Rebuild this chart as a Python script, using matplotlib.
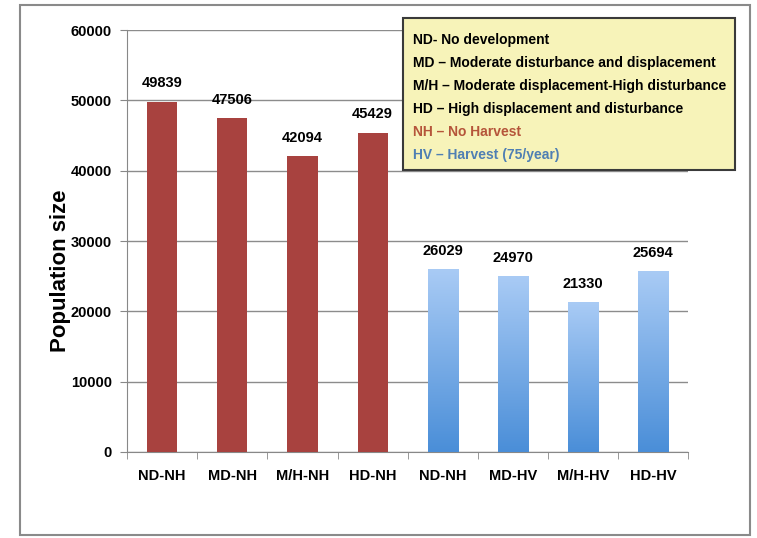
import numpy as np
import matplotlib.pyplot as plt
from matplotlib.patches import Rectangle
from matplotlib.colors import LinearSegmentedColormap

# Data
categories = ['ND-NH', 'MD-NH', 'M/H-NH', 'HD-NH', 'ND-NH', 'MD-HV', 'M/H-HV', 'HD-HV']
values = [49839, 47506, 42094, 45429, 26029, 24970, 21330, 25694]
harvest = [False, False, False, False, True, True, True, True]
legend_lines = ['ND- No development',
                'MD \u2013 Moderate disturbance and displacement',
                'M/H \u2013 Moderate displacement-High disturbance',
                'HD \u2013 High displacement and disturbance',
                'NH \u2013 No Harvest',
                'HV \u2013 Harvest (75/year)']
legend_colors = ['black', 'black', 'black', 'black', '#b5553a', '#4f7fb3']

plt.rcParams['font.family'] = ['Liberation Sans', 'DejaVu Sans']

fig = plt.figure(figsize=(7.57, 5.38), dpi=100)
ax = fig.add_axes([0.168, 0.160, 0.741, 0.784])

# outer frame
fig.patches.append(Rectangle((0.026, 0.006), 0.965, 0.985, transform=fig.transFigure,
                             fill=False, edgecolor='#8a8a8a', linewidth=1.5))

x = np.arange(len(categories))
width = 0.43
blue_cmap = LinearSegmentedColormap.from_list('blu', ['#4a8ed8', '#a9cbf5'])
grad = np.linspace(0, 1, 256).reshape(-1, 1)

for xi, v, hv in zip(x, values, harvest):
    if hv:
        bar = ax.bar(xi, v, width, color='none', edgecolor='none', zorder=3)[0]
        im = ax.imshow(grad, cmap=blue_cmap, aspect='auto', origin='lower',
                       extent=[xi - width / 2, xi + width / 2, 0, v], zorder=3)
        im.set_clip_path(bar)
    else:
        ax.bar(xi, v, width, color='#a8423f', zorder=3)
    ax.text(xi, v + 1600, str(v), ha='center', va='bottom',
            fontsize=10.5, fontweight='bold')

ax.set_xlim(-0.5, len(categories) - 0.5)
ax.set_ylim(0, 60000)
ax.set_yticks(np.arange(0, 60001, 10000))
ax.set_yticklabels([str(t) for t in range(0, 60001, 10000)], fontsize=10.5, fontweight='bold')
ax.set_xticks(x)
ax.set_xticklabels(categories, fontsize=10.5, fontweight='bold')
ax.tick_params(axis='x', length=0, pad=12)
ax.set_xticks(np.arange(-0.5, len(categories)), minor=True)
ax.tick_params(axis='x', which='minor', length=5, color='#888888')
ax.tick_params(axis='y', length=5, color='#888888', pad=6)
ax.grid(axis='y', color='#8c8c8c', linewidth=1, zorder=0)
for s in ['top', 'right']:
    ax.spines[s].set_visible(False)
ax.spines['left'].set_color('#888888')
ax.spines['bottom'].set_color('#888888')
ax.set_ylabel('Population size', fontsize=16, fontweight='bold')
ax.yaxis.set_label_coords(-0.10, 0.43)

# legend box
fig.patches.append(Rectangle((0.533, 0.684), 0.438, 0.283, transform=fig.transFigure,
                             facecolor='#f7f3b9', edgecolor='#3a3a3a', linewidth=1.5,
                             zorder=5))
y0 = 0.925
for i, (line, c) in enumerate(zip(legend_lines, legend_colors)):
    fig.text(0.546, y0 - i * 0.0425, line, color=c, fontsize=10, fontweight='bold',
             va='center', zorder=6)

fig.savefig('out.png', dpi=100)
